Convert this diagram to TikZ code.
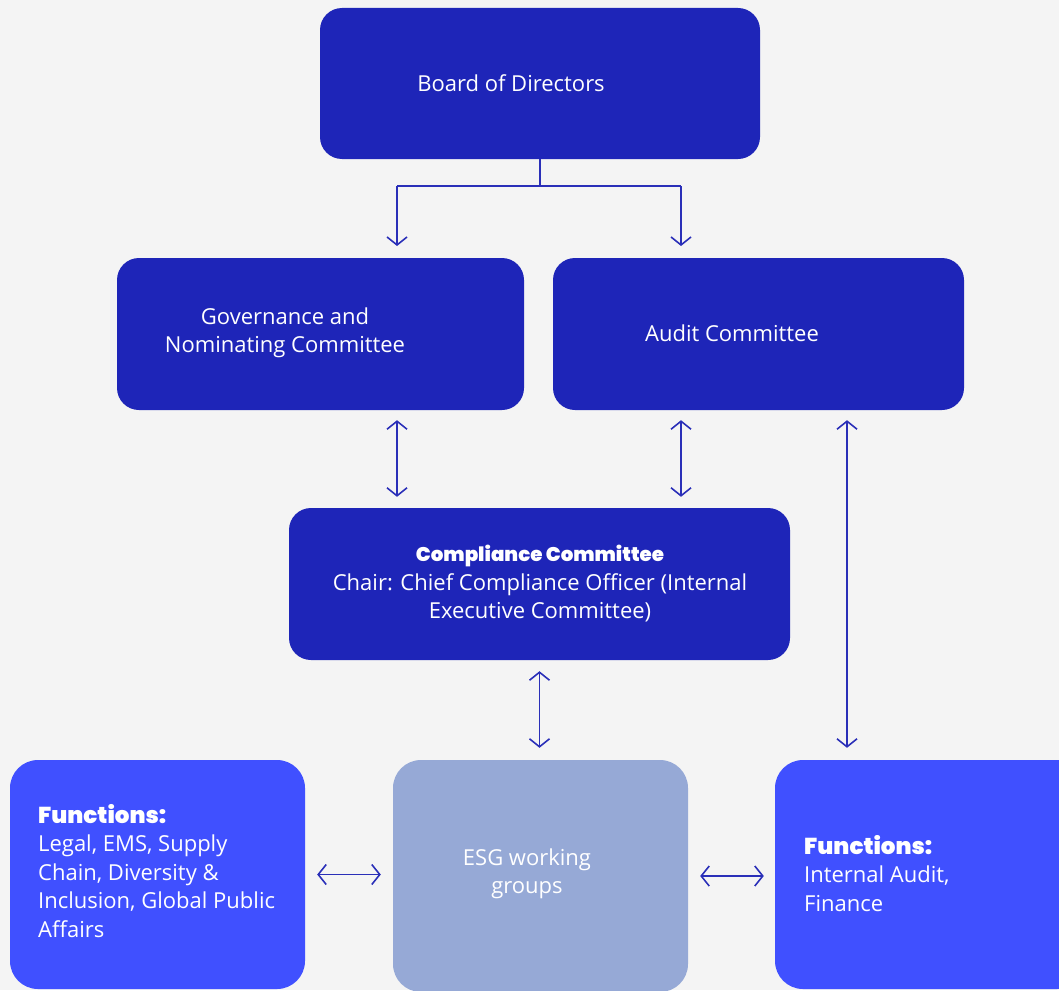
\documentclass[tikz,border=0pt]{standalone}
\usepackage{fontspec}
\setmainfont{Open Sans}
\newfontfamily\heavy{Poppins}[UprightFont={* Black}]
\usetikzlibrary{arrows.meta}
\definecolor{bg}{HTML}{F4F4F4}
\definecolor{dark}{HTML}{1E25B8}
\definecolor{bright}{HTML}{4050FF}
\definecolor{esg}{HTML}{96A9D6}
\definecolor{arrc}{HTML}{2A2FB8}
\tikzset{
  box/.style={rounded corners=22pt, inner sep=0pt, draw=none},
  darkbox/.style={box, fill=dark},
  fbox/.style={box, fill=bright, rounded corners=28pt},
  ebox/.style={box, fill=esg, rounded corners=28pt},
  lbl/.style={text=white, font=\fontsize{22}{28.5}\selectfont, inner sep=0pt},
  ln/.style={draw=arrc, line width=1.8pt},
  tip/.style={ln, -{Straight Barb[length=8pt,width=20pt,line width=1.6pt]}},
  dtip/.style={ln, {Straight Barb[length=8pt,width=20pt,line width=1.6pt]}-{Straight Barb[length=8pt,width=20pt,line width=1.6pt]}},
}
\begin{document}
\begin{tikzpicture}[x=1pt,y=-1pt]
\fill[bg] (0,0) rectangle (1059,990);
\useasboundingbox (0,0) rectangle (1059,990);
\clip (0,0) rectangle (1059,990);
% boxes
\node[darkbox, minimum width=440pt, minimum height=151pt] (board) at (540,83.5) {};
\node[darkbox, minimum width=407pt, minimum height=152pt] (gov) at (320.5,334) {};
\node[darkbox, minimum width=411pt, minimum height=152pt] (audit) at (758.5,334) {};
\node[darkbox, minimum width=501pt, minimum height=152pt] (comp) at (539.5,584) {};
\node[fbox, minimum width=295pt, minimum height=229pt] (fl) at (157.5,874.5) {};
\node[ebox, minimum width=295pt, minimum height=232pt] (esg) at (540.5,876) {};
\node[fbox, minimum width=310pt, minimum height=229pt] (fr) at (930,874.5) {};
% labels
\node[lbl] (boardt) at (511,83) {Board of Directors};
\node[lbl, align=center] (govt) at (285,333) {Governance and\\Nominating Committee};
\node[lbl] (auditt) at (732,333) {Audit Committee};
\node[lbl, align=center] (compt) at (540,584) {{\heavy\fontsize{19.8}{28.5}\selectfont Compliance Committee}\\Chair: Chief Compliance Officer (Internal\\Executive Committee)};
\node[lbl, align=left, anchor=north west] (flt) at (38,804) {{\heavy\fontsize{23}{28.5}\selectfont Functions:}\\Legal, EMS, Supply\\Chain, Diversity \&\\Inclusion, Global Public\\Affairs};
\node[lbl, align=left, anchor=north west] (frt) at (804,835) {{\heavy\fontsize{23}{28.5}\selectfont Functions:}\\Internal Audit,\\Finance};
\node[lbl, align=center] (esgt) at (527,874) {ESG working\\groups};
% connectors
\coordinate (j) at (540,186);
\coordinate (jl) at (397,186);
\coordinate (jr) at (681,186);
\coordinate (gl) at (397,246);
\coordinate (ar) at (681,246);
\draw[ln] (board.south) -- (j);
\draw[ln] (jl) -- (jr);
\draw[tip] (jl) -- (gl);
\draw[tip] (jr) -- (ar);
\draw[dtip] ([yshift=-10pt]gov.south -| jl) -- ([yshift=11pt]comp.north -| jl);
\draw[dtip] ([yshift=-10pt]audit.south -| jr) -- ([yshift=11pt]comp.north -| jr);
\coordinate (ax) at (847,0);
\draw[dtip] ([yshift=-10pt]audit.south -| ax) -- ([yshift=12pt]fr.north -| ax);
\draw[dtip] ([yshift=-11pt]comp.south) -- ([yshift=12pt]esg.north -| comp.south);
\draw[dtip] ([xshift=12pt]fl.east) -- ([xshift=-12pt]fl.east -| esg.west);
\draw[dtip] ([xshift=12pt]esg.east) -- ([xshift=-11pt]esg.east -| fr.west);
\end{tikzpicture}
\end{document}
